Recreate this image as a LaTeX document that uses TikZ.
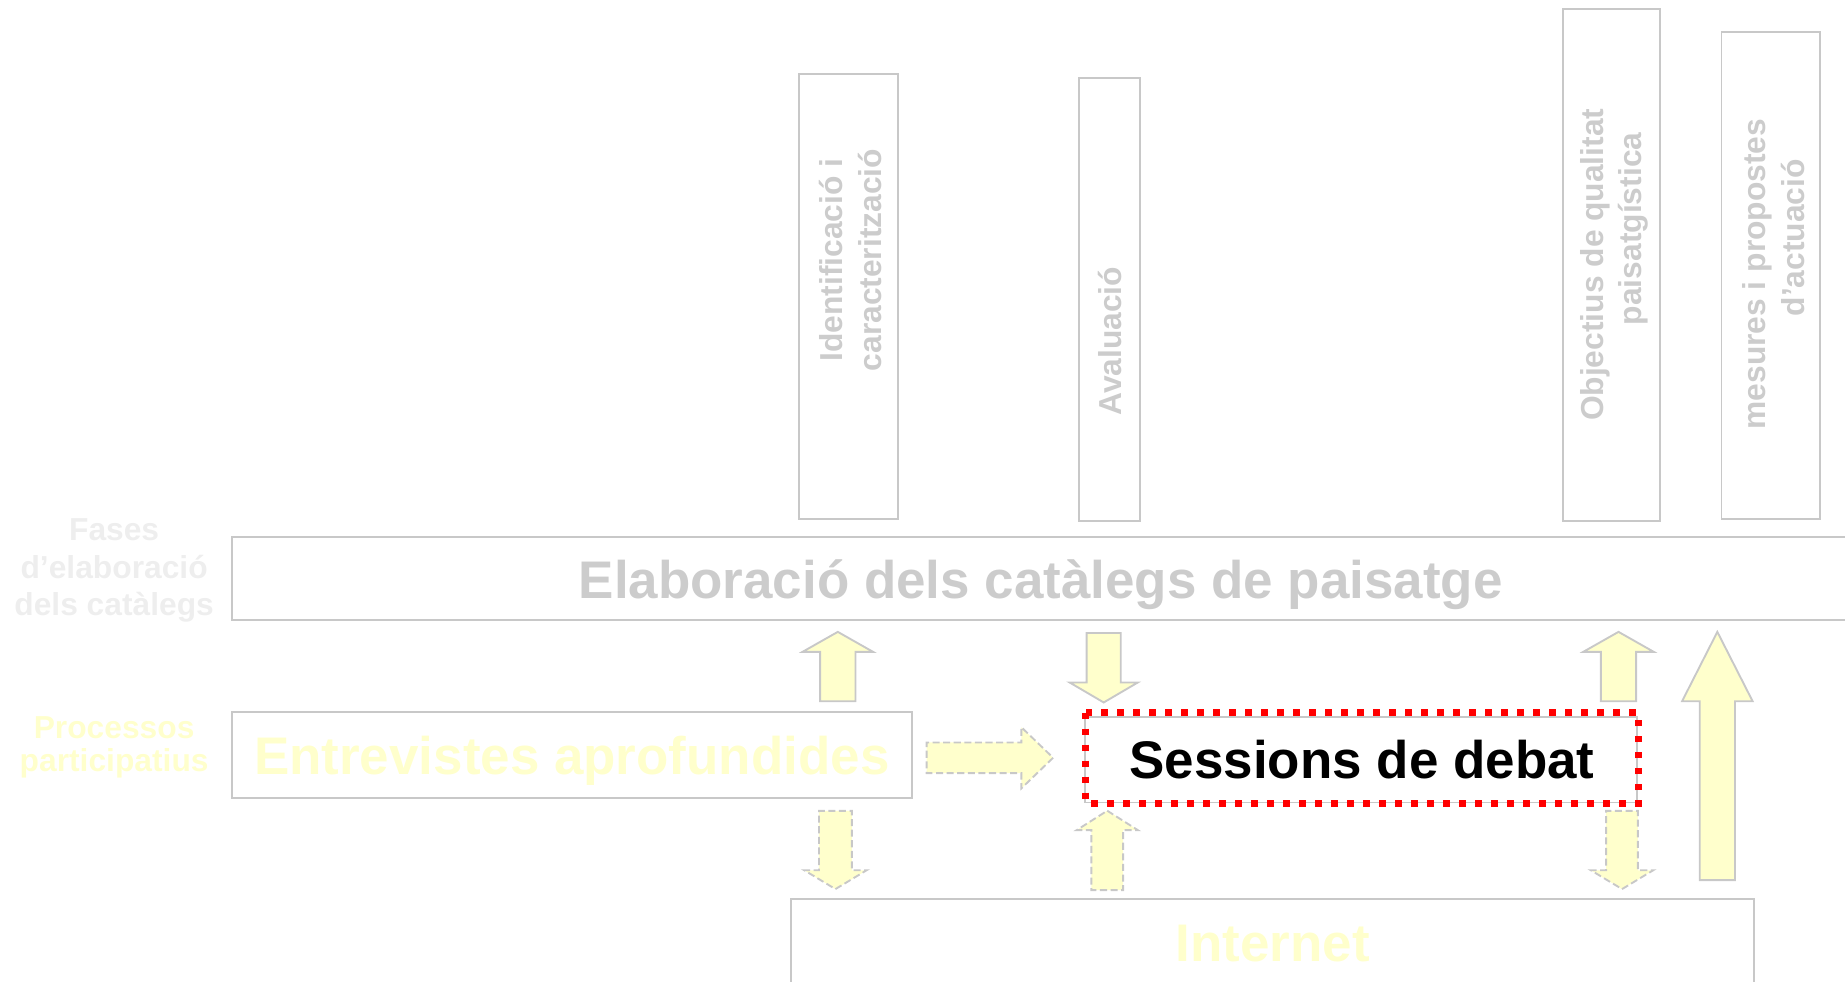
\documentclass[tikz,border=0pt]{standalone}
\usepackage{fontspec}
\setmainfont{Liberation Sans}
\definecolor{linegray}{RGB}{200,200,200}
\definecolor{textgray}{RGB}{204,204,204}
\definecolor{faintgray}{RGB}{238,238,238}
\definecolor{paleyel}{RGB}{255,255,204}
\definecolor{dotred}{RGB}{255,0,0}
\begin{document}
\begin{tikzpicture}[x=1pt,y=-1pt]
\tikzstyle{every node}+=[inner sep=0pt]
\tikzstyle{frame}=[draw=linegray, line width=1.6pt]
\tikzstyle{solidarr}=[draw=linegray, line width=1.6pt, fill=paleyel]
\tikzstyle{dasharr}=[solidarr, dash pattern=on 6pt off 3pt]
\tikzstyle{bigtxt}=[font=\fontsize{45}{54}\selectfont\bfseries]
\tikzstyle{vtxt}=[rotate=90, align=center, text=textgray, font=\fontsize{27}{33}\selectfont\bfseries]
\tikzstyle{sidetxt}=[align=center, font=\fontsize{27}{32}\selectfont\bfseries]
\useasboundingbox (0,0) rectangle (1568,834);
\clip (0,0) rectangle (1568,834);
% phases
\draw [frame] (679,63) rectangle (763,441);
\node (ident) [vtxt] at (723,221) {Identificació i\\caracterització};
\draw [frame] (917,66) rectangle (969,443);
\node (aval) [vtxt] at (943,290) {Avaluació};
\draw [frame] (1328,8) rectangle (1411,443);
\node (objec) [vtxt] at (1372,225) {Objectius de qualitat\\\hspace*{61pt}paisatgística};
\draw [frame] (1463,27) rectangle (1547,441);
\node (mesur) [vtxt] at (1507,233) {mesures i propostes\\\hspace*{62pt}d’actuació};
% rows
\node (fases) [sidetxt, text=faintgray] at (97,485) {Fases\\d’elaboració\\dels catàlegs};
\node (procs) [sidetxt, text=paleyel, font=\fontsize{27}{28}\selectfont\bfseries] at (97,635) {Processos\\participatius};
\draw [frame] (197,456) rectangle (1580,527);
\node (elab) [bigtxt, text=textgray, anchor=base] at (884.5,509) {Elaboració dels catàlegs de paisatge};
\draw [frame] (197,605) rectangle (775,678);
\node (entrev) [bigtxt, text=paleyel, anchor=base] at (486,658) {Entrevistes aprofundides};
\draw [frame] (922,609) rectangle (1391,682);
\draw [dotred, line width=5.7pt, dash pattern=on 5.7pt off 7.9pt] (922.6,605.7) rectangle (1392.3,682.7);
\node (sessio) [bigtxt, anchor=base] at (1157.5,662) {Sessions de debat};
\draw [frame] (672,764) rectangle (1491,850);
\node (inter) [bigtxt, text=paleyel, anchor=base] at (1081.5,817) {Internet};
% block arrows
\draw [solidarr] (712,537) -- ++(30,17) -- ++(-15,0) -- ++(0,42) -- ++(-30,0) -- ++(0,-42) -- ++(-15,0) -- cycle;
\draw [solidarr] (938,597) -- ++(29,-17) -- ++(-14.5,0) -- ++(0,-42) -- ++(-29,0) -- ++(0,42) -- ++(-14.5,0) -- cycle;
\draw [solidarr] (1375.5,537) -- ++(30,17) -- ++(-15,0) -- ++(0,42) -- ++(-30,0) -- ++(0,-42) -- ++(-15,0) -- cycle;
\draw [solidarr] (1459.5,537) -- ++(30,59) -- ++(-15,0) -- ++(0,152) -- ++(-30,0) -- ++(0,-152) -- ++(-15,0) -- cycle;
\draw [dasharr] (895,644) -- ++(-27,26) -- ++(0,-13) -- ++(-80.5,0) -- ++(0,-26) -- ++(80.5,0) -- ++(0,-13) -- cycle;
\draw [dasharr] (710,755.6) -- ++(26.5,-16) -- ++(-12.5,0) -- ++(0,-50.5) -- ++(-28,0) -- ++(0,50.5) -- ++(-12.5,0) -- cycle;
\draw [dasharr] (941,689) -- ++(26,16.5) -- ++(-12.5,0) -- ++(0,51) -- ++(-27,0) -- ++(0,-51) -- ++(-12.5,0) -- cycle;
\draw [dasharr] (1378.5,755.6) -- ++(26.5,-16) -- ++(-13,0) -- ++(0,-50.5) -- ++(-27,0) -- ++(0,50.5) -- ++(-13,0) -- cycle;
\end{tikzpicture}
\end{document}
